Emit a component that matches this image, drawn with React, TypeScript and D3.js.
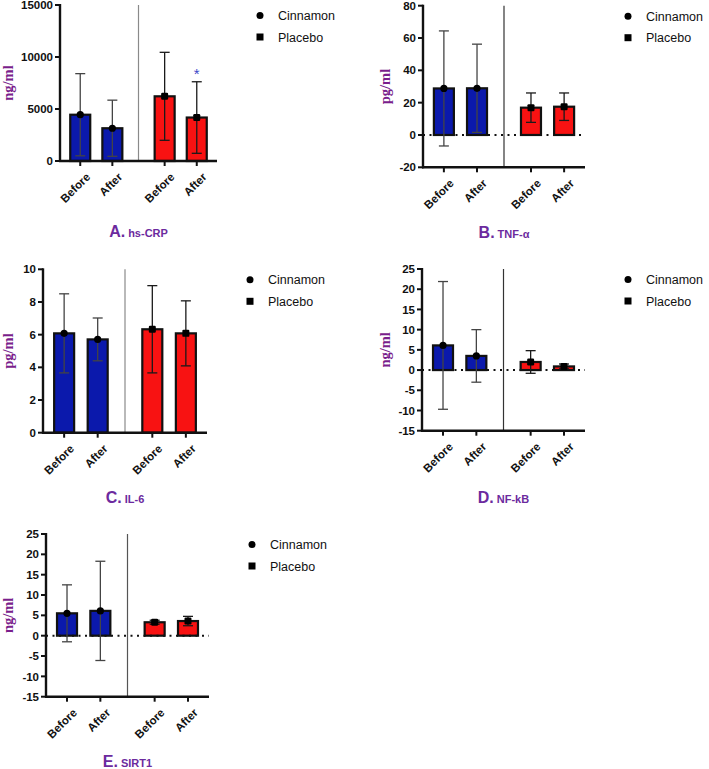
import React from 'react';
import * as d3 from 'd3';

// ---------- data ----------
const groups = ['Cinnamon', 'Placebo'];
const times = ['Before', 'After'];
const legendLabels = ['Cinnamon', 'Placebo'];

// order: Cinnamon-Before, Cinnamon-After, Placebo-Before, Placebo-After
const hsCrpMean = [4450, 3150, 6220, 4180];
const hsCrpSd = [3950, 2700, 4230, 3440];
const tnfMean = [28.8, 28.9, 16.9, 17.5];
const tnfSd = [35.6, 27.3, 9.1, 8.5];
const il6Mean = [6.08, 5.71, 6.33, 6.08];
const il6Sd = [2.42, 1.31, 2.67, 1.99];
const nfkbMean = [6.1, 3.5, 2.0, 0.9];
const nfkbSd = [15.8, 6.5, 2.8, 0.6];
const sirt1Mean = [5.5, 6.1, 3.3, 3.6];
const sirt1Sd = [7.0, 12.2, 0.5, 1.15];

const hsCrpTicks = [0, 5000, 10000, 15000];
const tnfTicks = [-20, 0, 20, 40, 60, 80];
const il6Ticks = [0, 2, 4, 6, 8, 10];
const nfkbTicks = [-15, -10, -5, 0, 5, 10, 15, 20, 25];
const sirt1Ticks = [-15, -10, -5, 0, 5, 10, 15, 20, 25];

const hsCrpMarks = ['', '', '', '*'];

const panelLetters = ['A.', 'B.', 'C.', 'D.', 'E.'];
const panelNames = ['hs-CRP', 'TNF-α', 'IL-6', 'NF-kB', 'SIRT1'];
const units = ['ng/ml', 'pg/ml', 'pg/ml', 'ng/ml', 'ng/ml'];

// ---------- layout (pixels) ----------
const layouts = [
  { x0: 60, x1: 217, yTop: 5, yBot: 161, labelX: 8, titleY: 237, divColor: '#8a8a8a' },
  { x0: 423, x1: 585, yTop: 5.7, yBot: 167.3, labelX: 385, titleY: 238, divColor: '#333' },
  { x0: 43, x1: 207, yTop: 269.3, yBot: 432.7, labelX: 8, titleY: 503, divColor: '#8a8a8a' },
  { x0: 422, x1: 585, yTop: 269, yBot: 430.7, labelX: 385, titleY: 503, divColor: '#333' },
  { x0: 46, x1: 209, yTop: 534, yBot: 696.7, labelX: 8, titleY: 767, divColor: '#555' },
];

const panelData = [
  { mean: hsCrpMean, sd: hsCrpSd, ticks: hsCrpTicks, marks: hsCrpMarks },
  { mean: tnfMean, sd: tnfSd, ticks: tnfTicks, marks: null },
  { mean: il6Mean, sd: il6Sd, ticks: il6Ticks, marks: null },
  { mean: nfkbMean, sd: nfkbSd, ticks: nfkbTicks, marks: null },
  { mean: sirt1Mean, sd: sirt1Sd, ticks: sirt1Ticks, marks: null },
];

const BLUE = '#0b19ac';
const RED = '#f81212';
const PURPLE_LABEL = '#7a1e8c';
const PURPLE_TITLE = '#6c2a9e';
const SANS = "'Liberation Sans', Arial, Helvetica, sans-serif";
const SERIF = "'Liberation Serif', 'Times New Roman', serif";

function Panel({ idx }: { idx: number }) {
  const L = layouts[idx];
  const D = panelData[idx];
  const ticks = D.ticks;
  const y = d3.scaleLinear().domain([ticks[0], ticks[ticks.length - 1]]).range([L.yBot, L.yTop]);
  const outer = d3.scaleBand<string>().domain(groups).range([L.x0, L.x1]).paddingInner(0.3).paddingOuter(0.08);
  const inner = d3.scalePoint<string>().domain(times).range([0, outer.bandwidth()]).padding(0.42);
  const bars = groups.flatMap((g, gi) =>
    times.map((t, ti) => {
      const i = gi * 2 + ti;
      return {
        g, t, gi, i,
        cx: (outer(g) as number) + (inner(t) as number),
        mean: D.mean[i],
        sd: D.sd[i],
      };
    })
  );
  const dividerX = (outer('Cinnamon') as number) + outer.bandwidth() + (outer.step() - outer.bandwidth()) / 2;
  const barW = 20;
  const capW = 10;
  const hasNeg = ticks[0] < 0;
  const midY = (L.yTop + L.yBot) / 2;
  return (
    <g>
      {/* divider */}
      <line x1={dividerX} x2={dividerX} y1={L.yTop} y2={L.yBot} stroke={L.divColor} strokeWidth={1.2} />
      {/* bars */}
      {bars.map((b) => {
        const top = y(Math.max(0, b.mean));
        const base = y(Math.min(0, b.mean));
        return (
          <rect key={'r' + b.i} x={b.cx - barW / 2} y={top} width={barW} height={Math.max(0.5, base - top)}
            fill={b.gi === 0 ? BLUE : RED} stroke="#111" strokeWidth={2.2} />
        );
      })}
      {/* zero dotted line */}
      {hasNeg && (
        <line x1={L.x0} x2={L.x1} y1={y(0)} y2={y(0)} stroke="#111" strokeWidth={2} strokeDasharray="2,4.5" />
      )}
      {/* error bars */}
      {bars.map((b) => {
        const yu = y(b.mean + b.sd);
        const yl = y(b.mean - b.sd);
        return (
          <g key={'e' + b.i} stroke={b.gi === 0 ? '#444' : '#1a1a1a'} strokeWidth={1.3}>
            <line x1={b.cx} x2={b.cx} y1={yu} y2={yl} />
            <line x1={b.cx - capW / 2} x2={b.cx + capW / 2} y1={yu} y2={yu} />
            <line x1={b.cx - capW / 2} x2={b.cx + capW / 2} y1={yl} y2={yl} />
          </g>
        );
      })}
      {/* mean markers */}
      {bars.map((b) =>
        b.gi === 0 ? (
          <circle key={'m' + b.i} cx={b.cx} cy={y(b.mean)} r={3.6} fill="#000" />
        ) : (
          <rect key={'m' + b.i} x={b.cx - 3.5} y={y(b.mean) - 3.5} width={7} height={7} rx={1.2} fill="#000" />
        )
      )}
      {/* significance */}
      {D.marks &&
        bars.map((b) =>
          D.marks![b.i] ? (
            <text key={'s' + b.i} x={b.cx} y={y(b.mean + b.sd) - 3} textAnchor="middle" fontFamily={SANS}
              fontSize={15} fill="#3b48c8">{D.marks![b.i]}</text>
          ) : null
        )}
      {/* y axis */}
      <line x1={L.x0} x2={L.x0} y1={L.yTop - 1} y2={L.yBot + 1} stroke="#111" strokeWidth={2.4} />
      {ticks.map((t) => (
        <g key={'yt' + t}>
          <line x1={L.x0 - 5} x2={L.x0} y1={y(t)} y2={y(t)} stroke="#111" strokeWidth={2} />
          <text x={L.x0 - 7} y={y(t)} dy="0.36em" textAnchor="end" fontFamily={SANS} fontWeight="bold"
            fontSize={11.5} fill="#111">{t}</text>
        </g>
      ))}
      {/* x axis */}
      <line x1={L.x0 - 1} x2={L.x1} y1={L.yBot} y2={L.yBot} stroke="#111" strokeWidth={2.4} />
      {bars.map((b) => (
        <g key={'xt' + b.i}>
          <line x1={b.cx} x2={b.cx} y1={L.yBot} y2={L.yBot + 5} stroke="#111" strokeWidth={2} />
          <text transform={`translate(${b.cx + 5},${L.yBot + 11}) rotate(-45)`} textAnchor="end" dy="0.7em"
            fontFamily={SANS} fontWeight="bold" fontSize={11.5} fill="#111">{b.t}</text>
        </g>
      ))}
      {/* y label */}
      <text transform={`translate(${L.labelX + 5},${midY}) rotate(-90)`} textAnchor="middle" fontFamily={SERIF}
        fontWeight="bold" fontSize={14.5} fill={PURPLE_LABEL}>{units[idx]}</text>
      {/* legend */}
      <circle cx={L.x1 + 43} cy={L.yTop + 10.5} r={3.5} fill="#000" />
      <text x={L.x1 + 61} y={L.yTop + 10.5} dy="0.36em" fontFamily={SANS} fontSize={12.5} fill="#111">{legendLabels[0]}</text>
      <rect x={L.x1 + 39.5} y={L.yTop + 28.5} width={7} height={7} fill="#000" />
      <text x={L.x1 + 61} y={L.yTop + 32} dy="0.36em" fontFamily={SANS} fontSize={12.5} fill="#111">{legendLabels[1]}</text>
      {/* title */}
      <text x={(L.x0 + L.x1) / 2} y={L.titleY} textAnchor="middle" fontFamily={SANS} fontWeight="bold" fill={PURPLE_TITLE}>
        <tspan fontSize={16}>{panelLetters[idx]}</tspan>
        <tspan fontSize={11} dx={3}>{panelNames[idx]}</tspan>
      </text>
    </g>
  );
}

export default function App() {
  return (
    <svg width={709} height={769} style={{ position: 'absolute', left: 0, top: 0, background: '#fff' }}>
      <rect width={709} height={769} fill="#fff" />
      {layouts.map((_, i) => (
        <Panel key={i} idx={i} />
      ))}
    </svg>
  );
}
